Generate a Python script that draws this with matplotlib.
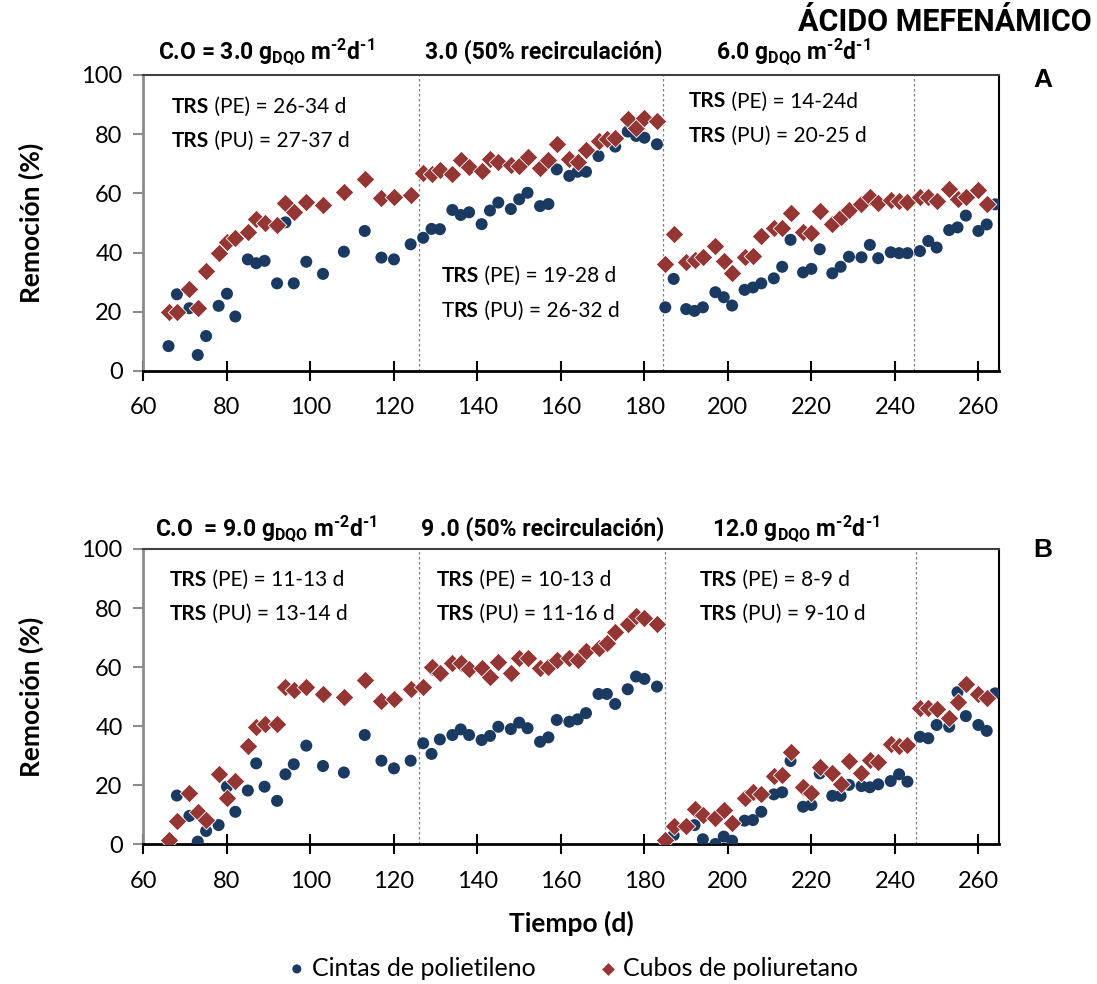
import matplotlib
matplotlib.use("Agg")
import matplotlib.pyplot as plt

# ---------- data ----------
# Panel A (3.0 / 3.0 recirc / 6.0 gDQO m-2 d-1)
dias_pe_a = [66, 68, 71, 73, 75, 78, 80, 82, 85, 87, 89, 92, 94, 96, 99, 103, 108, 113, 117, 120,
             124, 127, 129, 131, 134, 136, 138, 141, 143, 145, 148, 150, 152, 155, 157, 159, 162, 164, 166, 169,
             173, 176, 178, 180, 183,
             185, 187, 190, 192, 194, 197, 199, 201, 204, 206, 208, 211, 213, 215, 218, 220, 222, 225, 227, 229,
             232, 234, 236, 239, 241, 243, 246, 248, 250, 253, 255, 257, 260, 262, 264]
rem_pe_a = [8.4, 25.9, 21.2, 5.4, 11.8, 22.0, 26.1, 18.4, 37.7, 36.4, 37.2, 29.6, 50.2, 29.6, 36.9, 32.8, 40.3, 47.3, 38.3, 37.7,
            42.8, 45.0, 48.0, 47.9, 54.4, 52.7, 53.6, 49.6, 54.2, 56.9, 54.7, 58.0, 60.2, 55.7, 56.4, 68.1, 65.9, 67.3, 67.3, 72.6,
            75.8, 80.9, 79.4, 78.8, 76.6,
            21.5, 31.1, 20.9, 20.3, 21.5, 26.6, 24.9, 22.1, 27.4, 28.2, 29.6, 31.3, 35.2, 44.3, 33.3, 34.5, 41.1, 33.0, 35.2, 38.6,
            38.4, 42.6, 38.1, 40.1, 39.8, 39.8, 40.5, 43.9, 41.7, 47.6, 48.5, 52.5, 47.3, 49.5, 56.3]

dias_pu_a = [66, 68, 71, 73, 75, 78, 80, 82, 85, 87, 89, 92, 94, 96, 99, 103, 108, 113, 117, 120,
             124, 127, 129, 131, 134, 136, 138, 141, 143, 145, 148, 150, 152, 155, 157, 159, 162, 164, 166, 169,
             171, 173, 176, 178, 180, 183,
             185, 187, 190, 192, 194, 197, 199, 201, 204, 206, 208, 211, 213, 215, 218, 220, 222, 225, 227, 229,
             232, 234, 236, 239, 241, 243, 246, 248, 250, 253, 255, 257, 260, 262]
rem_pu_a = [20.0, 20.0, 27.6, 21.2, 33.9, 39.8, 43.7, 44.8, 47.1, 51.4, 49.9, 49.3, 56.9, 53.8, 57.2, 56.1, 60.4, 64.8, 58.3, 58.7,
            59.5, 66.8, 66.4, 67.9, 66.4, 71.3, 69.0, 67.7, 71.6, 70.7, 69.6, 69.3, 72.4, 68.7, 71.3, 76.6, 71.6, 70.7, 74.7, 77.7,
            78.3, 78.8, 85.1, 82.2, 85.6, 84.6,
            36.0, 46.2, 36.8, 37.5, 38.4, 42.3, 37.2, 33.0, 38.6, 39.0, 45.7, 48.2, 48.2, 53.3, 47.1, 46.5, 54.1, 49.5, 52.1, 54.4,
            56.4, 58.9, 56.7, 57.8, 57.4, 57.0, 58.9, 58.7, 57.4, 61.5, 58.0, 58.9, 61.1, 56.4]

# Panel B (9.0 / 9.0 recirc / 12.0 gDQO m-2 d-1)
dias_pe_b = [68, 71, 73, 75, 78, 80, 82, 85, 87, 89, 92, 94, 96, 99, 103, 108, 113, 117, 120,
             124, 127, 129, 131, 134, 136, 138, 141, 143, 145, 148, 150, 152, 155, 157, 159, 162, 164, 166, 169,
             171, 173, 176, 178, 180, 183,
             185, 187, 192, 194, 197, 199, 201, 204, 206, 208, 211, 213, 215, 218, 220, 222, 225, 227, 229,
             232, 234, 236, 239, 241, 243, 246, 248, 250, 253, 255, 257, 260, 262, 264]
rem_pe_b = [16.5, 9.6, 0.9, 4.5, 6.5, 19.5, 11.0, 18.2, 27.4, 19.5, 14.7, 23.7, 27.1, 33.4, 26.5, 24.3, 37.0, 28.3, 25.7,
            28.3, 34.2, 30.6, 35.5, 37.0, 38.9, 37.0, 35.3, 36.7, 39.8, 39.0, 41.2, 39.3, 34.7, 36.2, 42.1, 41.5, 42.3, 44.4, 50.9,
            50.9, 47.5, 52.5, 56.8, 56.0, 53.4,
            0.3, 3.1, 6.5, 1.7, 0.1, 2.6, 1.2, 8.0, 8.2, 11.0, 16.9, 17.6, 28.2, 12.7, 13.3, 24.0, 16.4, 16.4, 20.1,
            19.7, 19.3, 20.3, 21.4, 23.7, 21.2, 36.4, 35.9, 40.4, 39.8, 51.5, 43.4, 40.4, 38.4, 51.1]

dias_pu_b = [66, 68, 71, 73, 75, 78, 80, 82, 85, 87, 89, 92, 94, 96, 99, 103, 108, 113, 117, 120,
             124, 127, 129, 131, 134, 136, 138, 141, 143, 145, 148, 150, 152, 155, 157, 159, 162, 164, 166, 169,
             171, 173, 176, 178, 180, 183,
             185, 187, 190, 192, 194, 197, 199, 201, 204, 206, 208, 211, 213, 215, 218, 220, 222, 225, 227, 229,
             232, 234, 236, 239, 241, 243, 246, 248, 250, 253, 255, 257, 260, 262]
rem_pu_b = [1.5, 8.0, 17.5, 10.8, 8.2, 23.7, 15.6, 21.4, 33.4, 39.6, 40.7, 40.7, 53.4, 52.3, 53.2, 50.8, 49.8, 55.6, 48.6, 49.2,
            52.6, 53.2, 59.9, 58.1, 61.3, 61.5, 59.4, 59.8, 56.8, 61.6, 58.1, 63.2, 63.0, 59.8, 60.1, 62.4, 63.0, 62.4, 65.5, 66.4,
            68.1, 71.8, 74.5, 77.3, 76.5, 74.5,
            1.5, 6.3, 6.3, 12.0, 9.9, 8.8, 11.6, 7.1, 15.6, 17.6, 17.0, 23.2, 23.5, 31.2, 19.5, 17.3, 26.1, 24.0, 20.3, 28.2,
            24.3, 28.5, 28.0, 34.0, 33.4, 33.6, 46.1, 46.1, 45.7, 42.9, 48.3, 54.2, 50.8, 49.4]

# day where the operating condition changes
cambios_a = [126, 184.5, 244.5]
cambios_b = [126, 185, 245]

series_nombres = ["Cintas de polietileno", "Cubos de poliuretano"]

# header texts (one per operating phase)
UNID = r"g$_{\text{DQO}}$ m$^{\text{-2}}$d$^{\text{-1}}$"
fases_a = ["C.O = 3.0 " + UNID, "3.0 (50% recirculación)", "6.0 " + UNID]
fases_b = ["C.O  = 9.0 " + UNID, "9 .0 (50% recirculación)", "12.0 " + UNID]

# TRS boxes: (x, y line 1, y line 2, segments PE, segments PU)
trs_a = [(66.8, 90.2, 78.7, [("TRS", True), (" (PE) = 26-34 d", False)], [("TRS", True), (" (PU) = 27-37 d", False)]),
         (131.4, 33.1, 21.3, [("TRS", True), (" (PE) = 19-28 d", False)], [("T", False), ("RS", True), (" (PU) = 26-32 d", False)]),
         (190.5, 92.2, 80.4, [("TRS", True), (" (PE) = 14-24d", False)], [("TRS", True), (" (PU) = 20-25 d", False)])]
trs_b = [(66.3, 90.5, 79.0, [("TRS", True), (" (PE) = 11-13 d", False)], [("TRS", True), (" (PU) = 13-14 d", False)]),
         (130.2, 90.5, 79.0, [("TRS", True), (" (PE) = 10-13 d", False)], [("TRS", True), (" (PU) = 11-16 d", False)]),
         (193.2, 90.5, 79.0, [("TRS", True), (" (PE) = 8-9 d", False)], [("TRS", True), (" (PU) = 9-10 d", False)])]

AZUL = "#1b3a62"
ROJO = "#943634"
FUENTE = "Lato"
FUENTE_TIT = "Roboto"

plt.rcParams["mathtext.fontset"] = "custom"
plt.rcParams["mathtext.rm"] = "Roboto:bold"
plt.rcParams["mathtext.bf"] = "Roboto:bold"
plt.rcParams["mathtext.it"] = "Roboto:bold"


def texto_mixto(ax, x, y, segmentos, size):
    # chain bold / regular pieces one after the other
    prev = None
    for s, negrita in segmentos:
        w = "bold" if negrita else "normal"
        if prev is None:
            prev = ax.text(x, y, s, fontsize=size, fontweight=w, family=FUENTE, va="bottom", ha="left")
        else:
            prev = ax.annotate(s, xy=(1, 0), xycoords=prev, fontsize=size, fontweight=w,
                               family=FUENTE, va="bottom", ha="left")


def panel(ax, dias_pe, rem_pe, dias_pu, rem_pu, cambios, fases, fases_x, fase_y, trs):
    ax.scatter(dias_pe, rem_pe, s=75, marker="o", color=AZUL, edgecolors="none", zorder=3,
               label=series_nombres[0])
    ax.scatter(dias_pu, rem_pu, s=90, marker="D", color=ROJO, edgecolors="white", linewidths=0.6,
               zorder=4, label=series_nombres[1])
    for c in cambios:
        ax.axvline(c, color="#7f7f7f", lw=0.9, ls=(0, (2, 2)), zorder=1)
    ax.set_xlim(60, 265)
    ax.set_ylim(0, 100)
    ax.set_xticks(range(60, 261, 20))
    ax.set_yticks(range(0, 101, 20))

    ax.spines["left"].set_color("#8c8c8c")
    ax.spines["left"].set_linewidth(2)
    ax.spines["bottom"].set_color("black")
    ax.spines["bottom"].set_linewidth(2)
    ax.spines["top"].set_color("#404040")
    ax.spines["top"].set_linewidth(1.5)
    ax.spines["right"].set_color("black")
    ax.spines["right"].set_linewidth(1.5)
    ax.tick_params(axis="y", direction="out", length=7, width=1.5, color="#8c8c8c", pad=8)
    ax.tick_params(axis="x", direction="inout", length=14, width=1.5, color="black", pad=12)
    for lab in ax.get_xticklabels() + ax.get_yticklabels():
        lab.set_family(FUENTE)
        lab.set_fontsize(17)

    ax.set_ylabel("Remoción (%)", fontsize=19, fontweight="bold", family=FUENTE, labelpad=27)

    for f, fx in zip(fases, fases_x):
        ax.text(fx, fase_y, f, transform=ax.transAxes, fontsize=16.5, fontweight="bold",
                family=FUENTE_TIT, va="baseline", ha="left")

    for x, y1, y2, seg1, seg2 in trs:
        texto_mixto(ax, x, y1 - 4.5, seg1, 15)
        texto_mixto(ax, x, y2 - 4.5, seg2, 15)


fig = plt.figure(figsize=(10.97, 9.84), dpi=100)
ax_a = fig.add_axes([0.1308, 0.6230, 0.7801, 0.3008])
ax_b = fig.add_axes([0.1308, 0.1420, 0.7801, 0.3001])

panel(ax_a, dias_pe_a, rem_pe_a, dias_pu_a, rem_pu_a, cambios_a, fases_a, [0.017, 0.329, 0.669], 1.054, trs_a)
panel(ax_b, dias_pe_b, rem_pe_b, dias_pu_b, rem_pu_b, cambios_b, fases_b, [0.0134, 0.324, 0.664], 1.044, trs_b)

ax_b.set_xlabel("Tiempo (d)", fontsize=19, fontweight="bold", family=FUENTE, labelpad=14)

fig.text(0.995, 0.978, "ÁCIDO MEFENÁMICO", ha="right", va="center", fontsize=22,
         fontweight="bold", family=FUENTE_TIT)
fig.text(1043 / 1097, 1 - 80 / 984, "A", ha="center", va="center", fontsize=19, fontweight="bold",
         family="Liberation Sans")
fig.text(1043 / 1097, 1 - 550 / 984, "B", ha="center", va="center", fontsize=19, fontweight="bold",
         family="Liberation Sans")

h, l = ax_b.get_legend_handles_labels()
fig.legend(h, l, loc="center", bbox_to_anchor=(0.515, 1 - 968 / 984), ncol=2, frameon=False,
           prop={"family": FUENTE, "size": 18}, columnspacing=1.9, handletextpad=-0.4, markerscale=0.75)

fig.savefig("out.png", dpi=100)
